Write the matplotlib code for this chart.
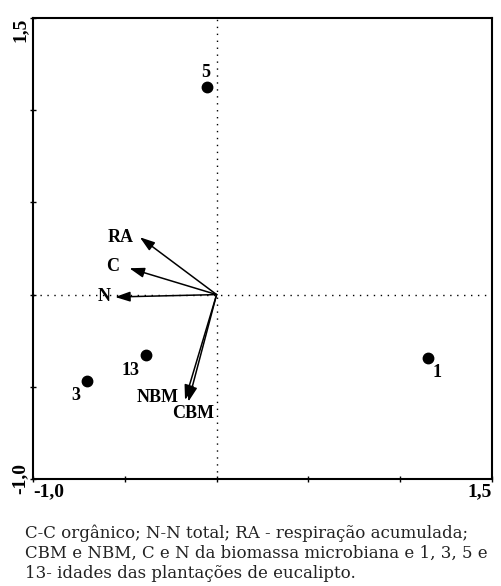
import numpy as np
import matplotlib
matplotlib.use('Agg')
import matplotlib.pyplot as plt

# idades das plantacoes (scores)
sites = ['5', '13', '3', '1']
site_x = [-0.052, -0.385, -0.706, 1.153]
site_y = [1.126, -0.329, -0.469, -0.345]

# variaveis (vetores)
vars_ = ['RA', 'C', 'N', 'NBM', 'CBM']
var_x = [-0.418, -0.475, -0.553, -0.172, -0.154]
var_y = [0.311, 0.143, -0.013, -0.572, -0.581]

caption = ('C-C orgânico; N-N total; RA - respiração acumulada;\n'
           'CBM e NBM, C e N da biomassa microbiana e 1, 3, 5 e\n'
           '13- idades das plantações de eucalipto.')

plt.rcParams['font.family'] = ['Liberation Serif', 'DejaVu Serif']

fig = plt.figure(figsize=(5.01, 5.86), dpi=100)
ax = fig.add_axes([33/501, 1-479/586, 459/501, 461/586])

ax.set_xlim(-1.0, 1.5)
ax.set_ylim(-1.0, 1.5)

ax.axhline(0, color='black', linestyle=(0, (1, 4)), linewidth=1.0)
ax.axvline(0, color='black', linestyle=(0, (1, 4)), linewidth=1.0)

for x, y in zip(var_x, var_y):
    ax.annotate('', xy=(x, y), xytext=(0, 0),
                arrowprops=dict(arrowstyle='-|>,head_length=0.9,head_width=0.3',
                                color='black', lw=1.1, shrinkA=0, shrinkB=0))

ax.plot(site_x, site_y, 'o', color='black', markersize=7.5)

# rotulos
site_off = {'5': (-0.005, 0.08, 'center'), '13': (-0.085, -0.08, 'center'),
            '3': (-0.06, -0.08, 'center'), '1': (0.05, -0.08, 'center')}
for s, x, y in zip(sites, site_x, site_y):
    dx, dy, ha = site_off[s]
    ax.text(x + dx, y + dy, s, fontsize=13, fontweight='bold', ha=ha, va='center')

var_lab = {'RA': (-0.52, 0.31), 'C': (-0.565, 0.15), 'N': (-0.61, -0.01),
           'NBM': (-0.32, -0.56), 'CBM': (-0.13, -0.645)}
for v in vars_:
    lx, ly = var_lab[v]
    ax.text(lx, ly, v, fontsize=13, fontweight='bold', ha='center', va='center')

ticks = [-1.0, -0.5, 0.0, 0.5, 1.0, 1.5]
labs = ['-1,0', '', '', '', '', '1,5']
ax.set_xticks(ticks)
ax.set_xticklabels(labs, fontsize=14, fontweight='bold')
ax.set_yticks(ticks)
ax.set_yticklabels(labs, fontsize=14, fontweight='bold', rotation=90, va='center')
ax.get_xticklabels()[0].set_ha('left')
ax.get_xticklabels()[-1].set_ha('right')
ax.get_yticklabels()[-1].set_va('top')
ax.tick_params(direction='inout', length=4, width=1.0, pad=1)

for sp in ax.spines.values():
    sp.set_linewidth(1.5)

fig.text(25/501, 1-524/586, caption, fontsize=12.0, family=['DejaVu Serif'],
         va='top', ha='left', linespacing=1.24, color='#222222')

fig.savefig('out.png', dpi=100)
